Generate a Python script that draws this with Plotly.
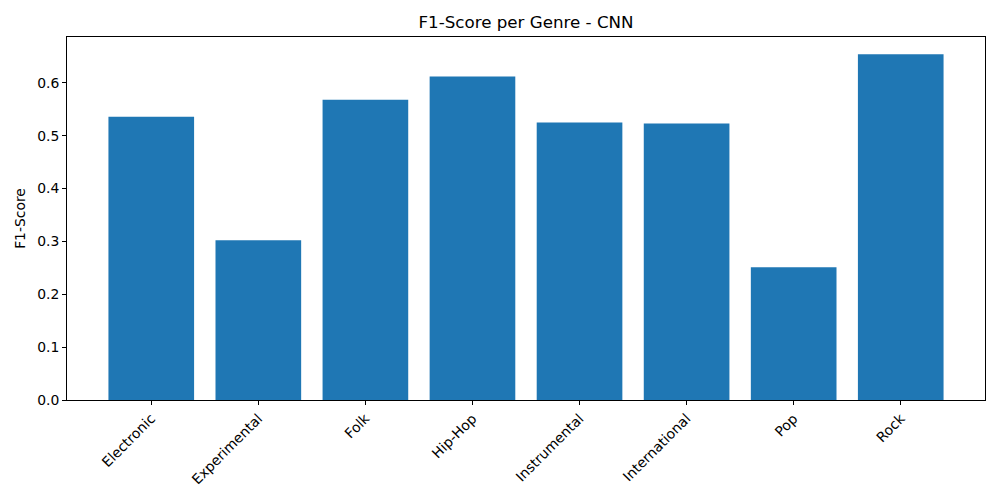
import plotly.graph_objects as go

# F1 per genre (CNN)
genres = ["Electronic", "Experimental", "Folk", "Hip-Hop",
          "Instrumental", "International", "Pop", "Rock"]
f1_scores = [0.536, 0.302, 0.568, 0.612, 0.525, 0.523, 0.251, 0.654]
y_ticks = [0.0, 0.1, 0.2, 0.3, 0.4, 0.5, 0.6]

fig = go.Figure(
    go.Bar(x=list(range(len(genres))), y=f1_scores, width=0.8,
           marker=dict(color="#1f77b4", line=dict(width=0)))
)

axis_style = dict(showline=True, linecolor="black", linewidth=1, mirror=True,
                  ticks="outside", ticklen=4, tickcolor="black",
                  showgrid=False, zeroline=False,
                  tickfont=dict(size=13.9, color="black"))

# page body adds an 8px offset, so margins are shifted by that
fig.update_layout(
    width=1000, height=500,
    margin=dict(l=59, r=23, t=29, b=108),
    paper_bgcolor="white", plot_bgcolor="white",
    font=dict(family="DejaVu Sans", color="black"),
    title=dict(text="F1-Score per Genre - CNN", x=0.518, xanchor="center",
               y=0.972, yanchor="middle", font=dict(size=16.7)),
    xaxis=dict(axis_style, tickmode="array", tickvals=list(range(len(genres))),
               ticktext=genres, tickangle=-45, range=[-0.787, 7.787]),
    yaxis=dict(axis_style, tickmode="array", tickvals=y_ticks,
               ticktext=[f"{v:.1f}" for v in y_ticks],
               range=[0, max(f1_scores) * 1.05],
               title=dict(text="F1-Score", font=dict(size=13.9), standoff=8)),
    showlegend=False,
)

fig.write_html("out.html")
